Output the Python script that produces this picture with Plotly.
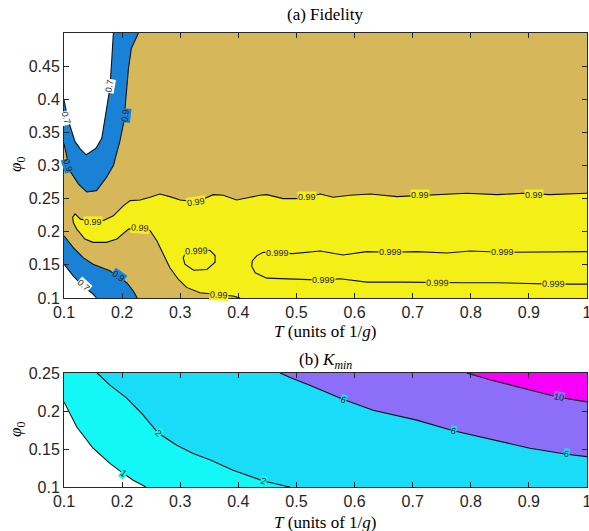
import plotly.graph_objects as go

# ---------------- axes data ----------------
T_RANGE = [0.1, 1.0]
PHI_RANGE_A = [0.1, 0.5]
PHI_RANGE_B = [0.1, 0.25]
T_TICKS = [0.1, 0.2, 0.3, 0.4, 0.5, 0.6, 0.7, 0.8, 0.9, 1.0]
T_TICK_TEXT = ["0.1", "0.2", "0.3", "0.4", "0.5", "0.6", "0.7", "0.8", "0.9", "1"]
PHI_TICKS_A = [0.1, 0.15, 0.2, 0.25, 0.3, 0.35, 0.4, 0.45]
PHI_TICK_TEXT_A = ["0.1", "0.15", "0.2", "0.25", "0.3", "0.35", "0.4", "0.45"]
PHI_TICKS_B = [0.1, 0.15, 0.2, 0.25]
PHI_TICK_TEXT_B = ["0.1", "0.15", "0.2", "0.25"]

# ---------------- (a) Fidelity contour lines (T, phi0) ----------------
F07_UPPER_T = [0.100, 0.107, 0.119, 0.128, 0.138, 0.155, 0.165, 0.173, 0.179, 0.182, 0.185]
F07_UPPER_PHI = [0.399, 0.369, 0.336, 0.325, 0.316, 0.326, 0.341, 0.381, 0.417, 0.457, 0.500]

F09_UPPER_T = [0.228, 0.216, 0.211, 0.207, 0.203, 0.196, 0.185, 0.173, 0.156, 0.139, 0.125, 0.110, 0.100]
F09_UPPER_PHI = [0.500, 0.477, 0.447, 0.407, 0.366, 0.336, 0.300, 0.282, 0.262, 0.260, 0.272, 0.292, 0.333]

F09_LOWER_T = [0.100, 0.116, 0.133, 0.150, 0.179, 0.208, 0.219, 0.226]
F09_LOWER_PHI = [0.194, 0.176, 0.161, 0.151, 0.141, 0.123, 0.111, 0.100]

F07_LOWER_T = [0.100, 0.116, 0.133, 0.150, 0.156]
F07_LOWER_PHI = [0.151, 0.133, 0.118, 0.106, 0.100]

F099_T = [1.000, 0.936, 0.890, 0.845, 0.793, 0.747, 0.713, 0.673, 0.627, 0.592, 0.563, 0.541,
          0.506, 0.477, 0.449, 0.437, 0.414, 0.397, 0.374, 0.357, 0.328, 0.300, 0.282, 0.265,
          0.248, 0.231, 0.214, 0.202, 0.185, 0.168, 0.150, 0.139, 0.128, 0.119, 0.115, 0.116,
          0.122, 0.136, 0.150, 0.173, 0.191, 0.211, 0.231, 0.248, 0.260, 0.271, 0.282, 0.297,
          0.311, 0.334, 0.366, 0.391, 0.403]
F099_PHI = [0.258, 0.256, 0.258, 0.256, 0.258, 0.256, 0.255, 0.253, 0.257, 0.255, 0.252, 0.257,
            0.250, 0.250, 0.256, 0.255, 0.251, 0.248, 0.255, 0.256, 0.245, 0.248, 0.253, 0.257,
            0.252, 0.248, 0.247, 0.239, 0.224, 0.217, 0.215, 0.217, 0.219, 0.227, 0.222, 0.214,
            0.204, 0.189, 0.184, 0.184, 0.189, 0.204, 0.205, 0.202, 0.186, 0.166, 0.146, 0.128,
            0.116, 0.108, 0.105, 0.103, 0.100]

F0999_LOOP_T = [0.305, 0.311, 0.328, 0.351, 0.360, 0.360, 0.346, 0.323, 0.308, 0.305]
F0999_LOOP_PHI = [0.161, 0.169, 0.171, 0.172, 0.164, 0.154, 0.143, 0.142, 0.151, 0.161]

F0999_BAND_T = [1.000, 0.890, 0.855, 0.799, 0.759, 0.707, 0.661, 0.621, 0.580, 0.541, 0.494,
                0.467, 0.443, 0.432, 0.424, 0.423, 0.429, 0.449, 0.489, 0.546, 0.575, 0.621,
                0.680, 0.742, 0.787, 0.845, 0.942, 1.000]
F0999_BAND_PHI = [0.170, 0.170, 0.169, 0.171, 0.168, 0.170, 0.169, 0.170, 0.165, 0.171, 0.167,
                  0.168, 0.169, 0.164, 0.156, 0.148, 0.138, 0.130, 0.129, 0.127, 0.129, 0.124,
                  0.124, 0.123, 0.123, 0.123, 0.121, 0.121]

# contour labels (a): text, T, phi0
LABEL_A_TEXT = ["0.7", "0.7", "0.9", "0.9", "0.9", "0.7",
                "0.99", "0.99", "0.99", "0.99", "0.99", "0.99", "0.99",
                "0.999", "0.999", "0.999", "0.999", "0.999", "0.999", "0.999"]
LABEL_A_T = [0.104, 0.178, 0.205, 0.108, 0.193, 0.133,
             0.150, 0.231, 0.328, 0.366, 0.518, 0.713, 0.908,
             0.328, 0.467, 0.661, 0.855, 0.546, 0.742, 0.942]
LABEL_A_PHI = [0.372, 0.420, 0.375, 0.300, 0.133, 0.119,
               0.215, 0.205, 0.245, 0.105, 0.252, 0.255, 0.256,
               0.171, 0.168, 0.169, 0.169, 0.127, 0.123, 0.121]

# ---------------- (b) K_min contour lines ----------------
K1_T = [0.100, 0.122, 0.150, 0.179, 0.202, 0.219, 0.241]
K1_PHI = [0.212, 0.179, 0.151, 0.131, 0.118, 0.109, 0.100]
K2_T = [0.157, 0.179, 0.208, 0.236, 0.262, 0.294, 0.322, 0.351, 0.391, 0.443, 0.483, 0.489]
K2_PHI = [0.250, 0.234, 0.217, 0.195, 0.171, 0.155, 0.144, 0.136, 0.122, 0.108, 0.101, 0.100]
K6_T = [0.472, 0.489, 0.523, 0.581, 0.632, 0.707, 0.770, 0.833, 0.902, 0.965, 1.000]
K6_PHI = [0.250, 0.244, 0.234, 0.215, 0.201, 0.188, 0.174, 0.163, 0.151, 0.143, 0.140]
K10_T = [0.793, 0.833, 0.890, 0.951, 1.000]
K10_PHI = [0.250, 0.241, 0.230, 0.218, 0.212]

LABEL_B_TEXT = ["1", "2", "2", "6", "6", "6", "10"]
LABEL_B_T = [0.202, 0.262, 0.443, 0.581, 0.770, 0.965, 0.951]
LABEL_B_PHI = [0.118, 0.171, 0.108, 0.215, 0.174, 0.143, 0.218]

# ---------------- styles ----------------
C_BLUE = "#1a82d6"
C_TAN = "#d6b85a"
C_YELLOW = "#f5ef18"
C_WHITE = "#ffffff"
C_CYAN1 = "#14f7f7"
C_CYAN2 = "#1adcf8"
C_PURPLE = "#8c6ef8"
C_MAGENTA = "#f800f8"
AX = "#262626"

LABEL_A_ANGLE = [75, -80, -83, 72, 35, 42, 0, 5, -8, 3, 0, 0, 0, -3, 0, 0, 0, 0, 1, 1]
LABEL_A_BG = [C_WHITE, C_WHITE, C_BLUE, C_BLUE, C_BLUE, C_WHITE,
              C_YELLOW, C_YELLOW, C_YELLOW, C_YELLOW, C_YELLOW, C_YELLOW, C_YELLOW,
              C_YELLOW, C_YELLOW, C_YELLOW, C_YELLOW, C_YELLOW, C_YELLOW, C_YELLOW]
LABEL_B_ANGLE = [36, 42, 17, 21, 14, 9, 12]
LABEL_B_BG = [C_CYAN1, C_CYAN1, C_CYAN1, C_CYAN2, C_CYAN2, C_CYAN2, C_PURPLE]

fig = go.Figure()


def fill(xs, ys, color, xa, ya):
    fig.add_trace(go.Scatter(x=xs, y=ys, mode="lines", fill="toself", fillcolor=color,
                             line=dict(width=0, color=color), hoverinfo="skip",
                             showlegend=False, xaxis=xa, yaxis=ya))


def line(xs, ys, xa, ya):
    fig.add_trace(go.Scatter(x=xs, y=ys, mode="lines", line=dict(width=1.1, color="#111111"),
                             hoverinfo="skip", showlegend=False, xaxis=xa, yaxis=ya))


# (a) fills
fill(F09_UPPER_T + [T_RANGE[0]], F09_UPPER_PHI + [PHI_RANGE_A[1]], C_BLUE, "x", "y")
fill(F07_UPPER_T + [T_RANGE[0]], F07_UPPER_PHI + [PHI_RANGE_A[1]], C_WHITE, "x", "y")
fill(F09_LOWER_T + [T_RANGE[0]], F09_LOWER_PHI + [PHI_RANGE_A[0]], C_BLUE, "x", "y")
fill(F07_LOWER_T + [T_RANGE[0]], F07_LOWER_PHI + [PHI_RANGE_A[0]], C_WHITE, "x", "y")
fill(F099_T + [T_RANGE[1]], F099_PHI + [PHI_RANGE_A[0]], C_YELLOW, "x", "y")
# (a) lines
for xs, ys in [(F07_UPPER_T, F07_UPPER_PHI), (F09_UPPER_T, F09_UPPER_PHI),
               (F09_LOWER_T, F09_LOWER_PHI), (F07_LOWER_T, F07_LOWER_PHI),
               (F099_T, F099_PHI), (F0999_LOOP_T, F0999_LOOP_PHI),
               (F0999_BAND_T, F0999_BAND_PHI)]:
    line(xs, ys, "x", "y")

# (b) fills
fill(K1_T + [T_RANGE[1], T_RANGE[1], T_RANGE[0]],
     K1_PHI + [PHI_RANGE_B[0], PHI_RANGE_B[1], PHI_RANGE_B[1]], C_CYAN1, "x2", "y2")
fill(K2_T + [T_RANGE[1], T_RANGE[1]], K2_PHI + [PHI_RANGE_B[0], PHI_RANGE_B[1]], C_CYAN2, "x2", "y2")
fill(K6_T + [T_RANGE[1]], K6_PHI + [PHI_RANGE_B[1]], C_PURPLE, "x2", "y2")
fill(K10_T + [T_RANGE[1]], K10_PHI + [PHI_RANGE_B[1]], C_MAGENTA, "x2", "y2")
for xs, ys in [(K1_T, K1_PHI), (K2_T, K2_PHI), (K6_T, K6_PHI), (K10_T, K10_PHI)]:
    line(xs, ys, "x2", "y2")

annotations = []
lab_font = dict(family="Liberation Sans, Arial, sans-serif", size=9, color="#222222")
for t, x, y, a, bg in zip(LABEL_A_TEXT, LABEL_A_T, LABEL_A_PHI, LABEL_A_ANGLE, LABEL_A_BG):
    annotations.append(dict(text=t, x=x, y=y, xref="x", yref="y", showarrow=False,
                            textangle=a, font=lab_font, bgcolor=bg, borderpad=0))
for t, x, y, a, bg in zip(LABEL_B_TEXT, LABEL_B_T, LABEL_B_PHI, LABEL_B_ANGLE, LABEL_B_BG):
    annotations.append(dict(text=t, x=x, y=y, xref="x2", yref="y2", showarrow=False,
                            textangle=a, font=lab_font, bgcolor=bg, borderpad=0))

W, H = 589, 531
serif = dict(family="Liberation Serif, Times New Roman, serif", size=17, color="#000000")


def px(xp):
    return xp / W


def py(yp):
    return 1 - yp / H


annotations += [
    dict(text="(a) Fidelity", x=px(325), y=py(15), xref="paper", yref="paper",
         showarrow=False, font=serif, xanchor="center", yanchor="middle"),
    dict(text="<i>T</i> (units of 1/<i>g</i>)", x=px(325), y=py(331), xref="paper", yref="paper",
         showarrow=False, font=serif, xanchor="center", yanchor="middle"),
    dict(text="(b) <i>K</i><sub><i>min</i></sub>", x=px(325), y=py(361), xref="paper", yref="paper",
         showarrow=False, font=serif, xanchor="center", yanchor="middle"),
    dict(text="<i>T</i> (units of 1/<i>g</i>)", x=px(325), y=py(522), xref="paper", yref="paper",
         showarrow=False, font=serif, xanchor="center", yanchor="middle"),
    dict(text="<i>φ</i><sub>0</sub>", x=px(17), y=py(165), xref="paper", yref="paper",
         showarrow=False, font=serif, textangle=-90, xanchor="center", yanchor="middle"),
    dict(text="<i>φ</i><sub>0</sub>", x=px(17), y=py(430), xref="paper", yref="paper",
         showarrow=False, font=serif, textangle=-90, xanchor="center", yanchor="middle"),
]

tickfont = dict(family="Liberation Sans, Arial, sans-serif", size=16, color=AX)
common = dict(showline=True, linecolor=AX, linewidth=1, mirror="ticks", ticks="inside",
              ticklen=5, tickcolor=AX, tickwidth=1, tickfont=tickfont, showgrid=False,
              zeroline=False, fixedrange=True, automargin=False, ticklabeloverflow="allow")

fig.update_layout(
    width=W, height=H, margin=dict(l=0, r=0, t=0, b=0, pad=0, autoexpand=False),
    paper_bgcolor="white", plot_bgcolor=C_TAN, showlegend=False,
    xaxis=dict(domain=[px(64), px(587)], range=T_RANGE, tickvals=T_TICKS, ticktext=T_TICK_TEXT,
               anchor="y", **common),
    yaxis=dict(domain=[py(298), py(33)], range=PHI_RANGE_A, tickvals=PHI_TICKS_A,
               ticktext=PHI_TICK_TEXT_A, anchor="x", **common),
    xaxis2=dict(domain=[px(64), px(587)], range=T_RANGE, tickvals=T_TICKS, ticktext=T_TICK_TEXT,
                anchor="y2", **common),
    yaxis2=dict(domain=[py(487), py(373)], range=PHI_RANGE_B, tickvals=PHI_TICKS_B,
                ticktext=PHI_TICK_TEXT_B, anchor="x2", **common),
    annotations=annotations,
)
# bottom panel background is white (region below K=1)
fig.add_shape(type="rect", xref="x2 domain", yref="y2 domain", x0=0, x1=1, y0=0, y1=1,
              fillcolor="white", line=dict(width=0), layer="below")

fig.write_html("out.html")
